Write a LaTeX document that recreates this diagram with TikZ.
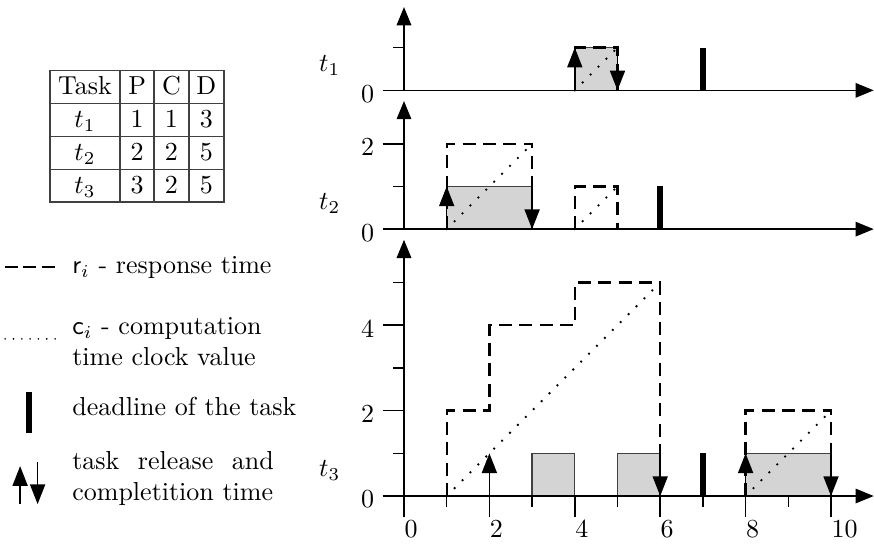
\documentclass[tikz,border=0pt]{standalone}
\usetikzlibrary{arrows.meta}
\begin{document}
\begin{tikzpicture}[x=0.577cm,y=0.577cm,
  axisline/.style={line width=0.6pt,-{Triangle[length=7pt,width=5.6pt]}},
  tickline/.style={line width=0.6pt},
  jobbox/.style={fill=black!17,draw=black!75,line width=0.5pt},
  resp/.style={line width=0.9pt,dash pattern=on 5pt off 2.8pt},
  comp/.style={line width=1pt,line cap=round,dash pattern=on 0pt off 4.3pt},
  dline/.style={line width=2.2pt},
  evt/.style={line width=0.6pt,-{Triangle[length=7.6pt,width=5.8pt]}},
  lbl/.style={inner sep=0pt},
  tbl/.style={line width=0.6pt,draw=black!75},
]
\useasboundingbox (-9.461,-1.194) rectangle (11.007,11.616);

% ---------------- top plot (t1)
\begin{scope}[shift={(0,9.5)}]
  \path[jobbox] (4,0) rectangle (5,1);
  \draw[resp] (4,0) -- (4,1) -- (5,1) -- (5,0);
  \draw[comp] (4,0) -- (5,1);
  \draw[axisline] (-0.5,0) -- (11,0);
  \draw[axisline] (0,0) -- (0,1.95);
  \draw[tickline] (-0.25,1) -- (0,1);
  \draw[evt] (4,0) -- (4,1);
  \draw[evt] (5,1) -- (5,0);
  \draw[dline] (7,0) -- (7,1);
  \node[lbl,anchor=base east] (ya0) at (-0.69,-0.28) {0};
  \node[lbl,anchor=base west] (ta) at (-2.0,0.45) {$t_1$};
\end{scope}

% ---------------- middle plot (t2)
\begin{scope}[shift={(0,6.25)}]
  \path[jobbox] (1,0) rectangle (3,1);
  \draw[resp] (1,0) -- (1,2) -- (3,2) -- (3,0);
  \draw[comp] (1,0) -- (3,2);
  \draw[resp] (4,0) -- (4,1) -- (5,1) -- (5,0);
  \draw[comp] (4,0) -- (5,1);
  \draw[axisline] (-0.5,0) -- (11,0);
  \draw[axisline] (0,0) -- (0,3);
  \draw[tickline] (-0.25,1) -- (0,1);
  \draw[tickline] (-0.5,2) -- (0,2);
  \draw[evt] (1,0) -- (1,1);
  \draw[evt] (3,1) -- (3,0);
  \draw[dline] (6,0) -- (6,1);
  \node[lbl,anchor=base east] (yb0) at (-0.69,-0.28) {0};
  \node[lbl,anchor=base east] (yb2) at (-0.69,1.72) {2};
  \node[lbl,anchor=base west] (tb) at (-2.0,0.45) {$t_2$};
\end{scope}

% ---------------- bottom plot (t3)
\begin{scope}
  \path[jobbox] (3,0) rectangle (4,1);
  \path[jobbox] (5,0) rectangle (6,1);
  \path[jobbox] (8,0) rectangle (10,1);
  \draw[resp] (1,0) -- (1,2) -- (2,2) -- (2,4) -- (4,4) -- (4,5) -- (6,5) -- (6,0);
  \draw[resp] (8,0) -- (8,2) -- (10,2) -- (10,0);
  \draw[comp] (1,0) -- (6,5);
  \draw[comp] (8,0) -- (10,2);
  \draw[axisline] (-0.5,0) -- (11,0);
  \draw[axisline] (0,-0.5) -- (0,6);
  \foreach \k in {1,3,5} {\draw[tickline] (-0.25,\k) -- (0,\k);}
  \foreach \k in {2,4} {\draw[tickline] (-0.5,\k) -- (0,\k);}
  \foreach \k in {1,3,5,7,9} {\draw[tickline] (\k,0) -- (\k,-0.25);}
  \foreach \k in {2,4,6,8,10} {\draw[tickline] (\k,0) -- (\k,-0.5);}
  \draw[evt] (2,0) -- (2,1);
  \draw[evt] (6,1) -- (6,0);
  \draw[evt] (8,0) -- (8,1);
  \draw[evt] (10,1) -- (10,0);
  \draw[dline] (7,0) -- (7,1);
  \node[lbl,anchor=base east] (yc0) at (-0.69,-0.28) {0};
  \node[lbl,anchor=base east] (yc2) at (-0.69,1.72) {2};
  \node[lbl,anchor=base east] (yc4) at (-0.69,3.72) {4};
  \node[lbl,anchor=base west] (tc) at (-2.0,0.45) {$t_3$};
  \foreach \k in {0,2,4,6,8,10} {\node[lbl,anchor=base west] (x\k) at (\k,-0.98) {\k};}
\end{scope}

% ---------------- table
\draw[tbl] (-8.29,9.96) rectangle (-4.22,6.88);
\foreach \yy in {9.19,8.42,7.65} {\draw[tbl] (-8.29,\yy) -- (-4.22,\yy);}
\foreach \xx in {-6.65,-5.85,-5.04} {\draw[tbl] (\xx,9.96) -- (\xx,6.88);}
\node[lbl,anchor=base] (h0) at (-7.47,9.395) {Task};
\node[lbl,anchor=base] (h1) at (-6.25,9.395) {P};
\node[lbl,anchor=base] (h2) at (-5.445,9.395) {C};
\node[lbl,anchor=base] (h3) at (-4.63,9.395) {D};
\node[lbl,anchor=base] (r10) at (-7.47,8.625) {$t_1$};
\node[lbl,anchor=base] (r11) at (-6.25,8.625) {1};
\node[lbl,anchor=base] (r12) at (-5.445,8.625) {1};
\node[lbl,anchor=base] (r13) at (-4.63,8.625) {3};
\node[lbl,anchor=base] (r20) at (-7.47,7.855) {$t_2$};
\node[lbl,anchor=base] (r21) at (-6.25,7.855) {2};
\node[lbl,anchor=base] (r22) at (-5.445,7.855) {2};
\node[lbl,anchor=base] (r23) at (-4.63,7.855) {5};
\node[lbl,anchor=base] (r30) at (-7.47,7.085) {$t_3$};
\node[lbl,anchor=base] (r31) at (-6.25,7.085) {3};
\node[lbl,anchor=base] (r32) at (-5.445,7.085) {2};
\node[lbl,anchor=base] (r33) at (-4.63,7.085) {5};

% ---------------- legend
\draw[line width=1pt,dash pattern=on 5pt off 2pt] (-9.34,5.36) -- (-8.12,5.36);
\node[lbl,anchor=base west] (lg1) at (-7.78,5.20) {$\mathsf{r}_i$ - response time};
\draw[line width=0.7pt,line cap=round,dash pattern=on 0pt off 3.2pt] (-9.34,3.68) -- (-8.06,3.68);
\node[lbl,anchor=base west] (lg2) at (-7.78,3.79) {$\mathsf{c}_i$ - computation};
\node[lbl,anchor=base west] (lg2b) at (-7.78,3.06) {time clock value};
\draw[dline] (-8.78,1.48) -- (-8.78,2.44);
\node[lbl,anchor=base west] (lg3) at (-7.78,1.88) {deadline of the task};
\draw[evt] (-8.99,-0.19) -- (-8.99,0.70);
\draw[evt] (-8.58,0.80) -- (-8.58,-0.19);
\node[lbl,anchor=base west] (lg4) at (-7.78,0.63) {\makebox[77.5pt][s]{task release and}};
\node[lbl,anchor=base west] (lg4b) at (-7.78,-0.10) {completition time};
\end{tikzpicture}
\end{document}
